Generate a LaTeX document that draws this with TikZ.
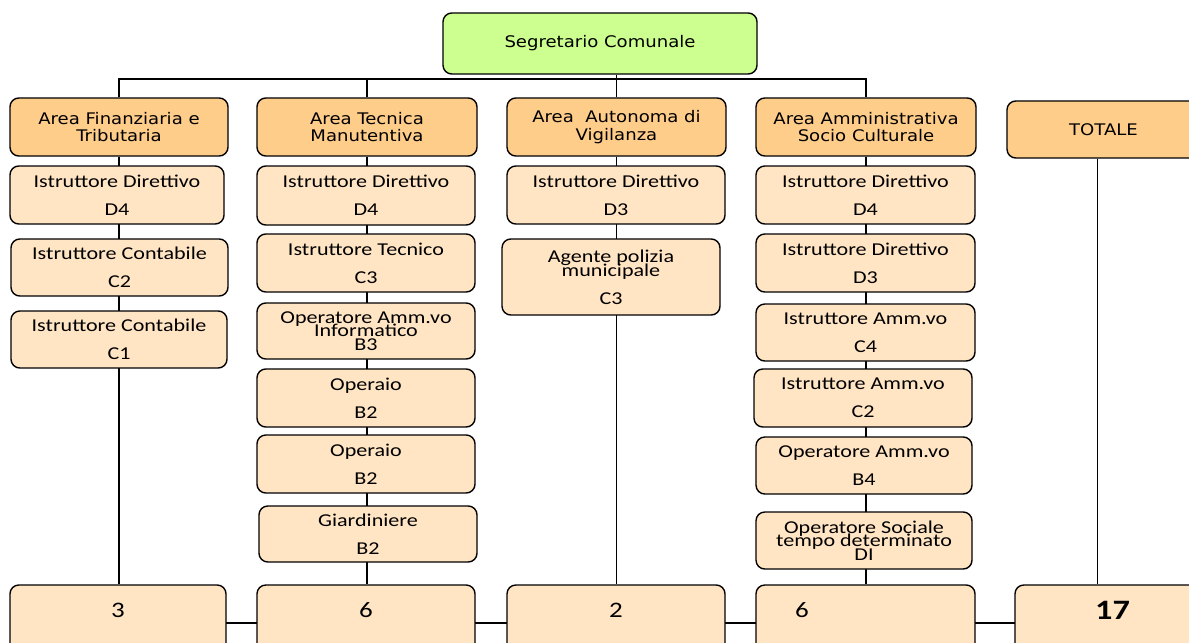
\documentclass[tikz,border=0pt]{standalone}
\usepackage{fontspec}
\setmainfont[FakeStretch=1.13]{DejaVu Sans}
\newfontfamily\rolefont[FakeStretch=1.22]{Carlito}
\usetikzlibrary{positioning,backgrounds}
\definecolor{segreen}{RGB}{204,255,144}
\definecolor{areaorange}{RGB}{255,205,138}
\definecolor{rolepeach}{RGB}{255,229,196}

\begin{document}
\begin{tikzpicture}[
    x=0.02cm, y=-0.02cm,
    every node/.style={draw, rectangle, rounded corners=5pt, align=center, inner sep=0pt, line width=0.8pt},
    span/.style n args={4}{at={({(#1+#3)/2},{(#2+#4)/2})}, minimum width={(#3-#1)*0.02cm}, minimum height={(#4-#2)*0.02cm}},
    head/.style={fill=areaorange, font=\fontsize{9.1}{10.2}\selectfont},
    role/.style={fill=rolepeach, font=\rolefont\fontsize{10.3}{11}\selectfont},
    sumbox/.style={fill=rolepeach, font=\rolefont\fontsize{12.6}{14}\selectfont, text depth=14.8pt},
    link/.style={line width=0.75pt}
]
    \useasboundingbox (0,0) rectangle (1189,642);
    \clip (0,0) rectangle (1189,642);

    % vertice
    \node[fill=segreen, font=\fontsize{9.1}{10.2}\selectfont, span={443}{13}{757}{74}] (top) {Segretario Comunale};

    % aree
    \node[head, span={10}{98}{228}{156}] (a1) {Area Finanziaria e\\Tributaria};
    \node[head, span={257}{98}{477}{156}] (a2) {Area Tecnica\\Manutentiva};
    \node[head, span={507}{98}{726}{156}] (a3) {Area~ Autonoma di\\Vigilanza};
    \node[head, span={756}{98}{976}{156}] (a4) {Area Amministrativa\\Socio Culturale};
    \node[head, span={1007}{101}{1200}{158}] (tot) {TOTALE};

    % area finanziaria
    \node[role, span={10}{166}{224}{224}] (f1) {Istruttore Direttivo\\[5pt]D4};
    \node[role, span={11}{239}{228}{296}] (f2) {Istruttore Contabile\\[5pt]C2};
    \node[role, span={11}{311}{227}{368}] (f3) {Istruttore Contabile\\[5pt]C1};

    % area tecnica
    \node[role, span={257}{166}{475}{225}] (t1) {Istruttore Direttivo\\[5pt]D4};
    \node[role, span={257}{234}{475}{292}] (t2) {Istruttore Tecnico\\[5pt]C3};
    \node[role, span={257}{303}{475}{359}] (t3) {Operatore Amm.vo\\[-3.2pt]Informatico\\[-3.2pt]B3};
    \node[role, span={257}{369}{475}{427}] (t4) {Operaio\\[5pt]B2};
    \node[role, span={257}{435}{475}{493}] (t5) {Operaio\\[5pt]B2};
    \node[role, span={259}{506}{477}{562}] (t6) {Giardiniere\\[5pt]B2};

    % area vigilanza
    \node[role, span={507}{166}{725}{224}] (v1) {Istruttore Direttivo\\[5pt]D3};
    \node[role, span={502}{239}{720}{315}] (v2) {Agente polizia\\[-3.2pt]municipale\\[5pt]C3};

    % area amministrativa
    \node[role, span={756}{166}{975}{224}] (m1) {Istruttore Direttivo\\[5pt]D4};
    \node[role, span={756}{234}{975}{292}] (m2) {Istruttore Direttivo\\[5pt]D3};
    \node[role, span={756}{304}{975}{361}] (m3) {Istruttore Amm.vo\\[5pt]C4};
    \node[role, span={754}{369}{972}{427}] (m4) {Istruttore Amm.vo\\[5pt]C2};
    \node[role, span={756}{437}{972}{494}] (m5) {Operatore Amm.vo\\[5pt]B4};
    \node[role, span={756}{512}{972}{569}] (m6) {Operatore Sociale\\[-3.2pt]tempo determinato\\[-3.2pt]DI};

    % totali
    \node[sumbox, span={10}{585}{226}{661}] (s1) {3};
    \node[sumbox, span={257}{585}{475}{661}] (s2) {6};
    \node[sumbox, span={507}{585}{725}{661}] (s3) {2};
    \node[sumbox, span={756}{585}{975}{661}, text width=2.82cm, align=left] (s4) {6};
    \node[sumbox, span={1015}{585}{1210}{661}, font=\rolefont\fontsize{16}{18}\selectfont\bfseries] (s5) {17};

    % collegamenti
    \coordinate (bus) at (617,79);
    \draw[link] (a1.north) -- (a1.north |- bus) -- (a4.north |- bus) -- (a4.north);
    \draw[link] (a2.north) -- (a2.north |- bus);
    \draw[link] (top.south -| a3.north) -- (a3.north);

    \begin{scope}[on background layer]
        \draw[link] (a1.south) -- (a1.south |- s1.north);
        \draw[link] (a2.south) -- (a2.south |- s2.north);
        \draw[link] (a3.south) -- (a3.south |- s3.north);
        \draw[link] (a4.south) -- (a4.south |- s4.north);
        \draw[link] ([xshift=-3.4pt]tot.south) -- ([xshift=-3.4pt]tot.south |- s5.north);
        \draw[link] (s1.center) -- (s5.center);
    \end{scope}
\end{tikzpicture}
\end{document}
